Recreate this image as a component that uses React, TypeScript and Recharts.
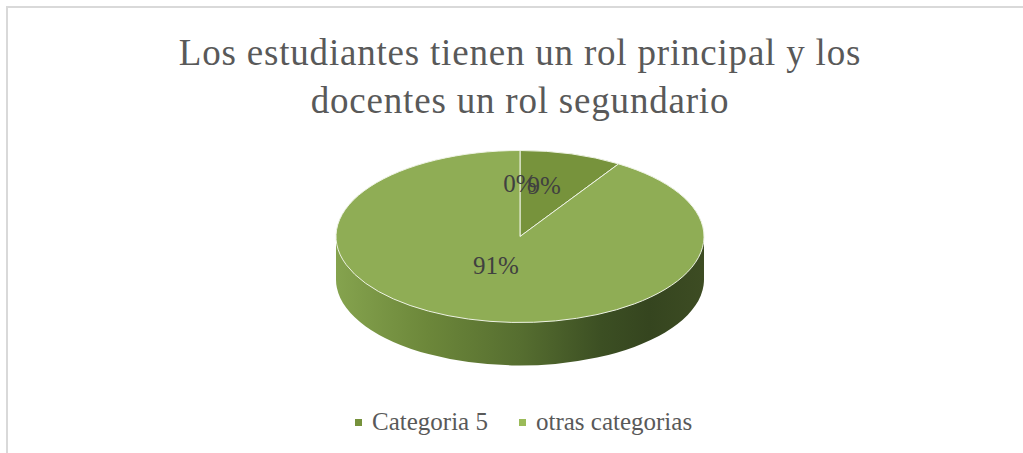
import React from 'react';
import { PieChart, Pie, Cell, Legend } from 'recharts';

// slice names, values and colours
const categories = ['Categoria 5', 'otras categorias', ''];
const values = [9, 91, 0];
const topColors = ['#77933c', '#8fad55', '#8fad55'];
const legendColors = ['#76923c', '#9bbb59'];

const titleLines = ['Los estudiantes tienen un rol principal y los', 'docentes un rol segundario'];

const pieData = categories.map((name, i) => ({ name, value: values[i] }));

// geometry of the tilted pie
const CX = 520;
const CY = 236.5;
const R = 184;
const RY = 86;
const DEPTH = 43;
const SQUASH = RY / R;
const LABEL_LIFT = 11;

const RAD = Math.PI / 180;

const renderLabel = (props: any) => {
  const { cx, cy, midAngle, outerRadius, percent } = props;
  const x = cx + outerRadius * 0.47 * Math.cos(-midAngle * RAD);
  const y = cy - LABEL_LIFT + outerRadius * SQUASH * 0.49 * Math.sin(-midAngle * RAD);
  return (
    <text
      x={x}
      y={y}
      fill="#404040"
      fontSize={25}
      fontFamily="'Liberation Serif', serif"
      textAnchor="middle"
      dominantBaseline="central"
    >
      {`${Math.round(percent * 100)}%`}
    </text>
  );
};

const renderLegend = () => (
  <div style={{ display: 'flex', alignItems: 'center', paddingLeft: 355, height: 30 }}>
    {categories
      .filter((c) => c !== '')
      .map((c, i) => (
        <div key={c} style={{ display: 'flex', alignItems: 'center', marginRight: 31 }}>
          <span style={{ width: 7, height: 7, background: legendColors[i], marginRight: 10 }} />
          <span style={{ fontSize: 25, color: '#595959', lineHeight: '30px' }}>{c}</span>
        </div>
      ))}
  </div>
);

const css = `
.top3d path.recharts-sector { transform: scaleY(${SQUASH}); transform-origin: ${CX}px ${CY}px; vector-effect: non-scaling-stroke; }
.side3d path.recharts-sector { transform: scaleY(${SQUASH}); transform-origin: ${CX}px ${CY + DEPTH}px; }
`;

const App: React.FC = () => {
  return (
    <div
      style={{
        position: 'absolute',
        left: 0,
        top: 0,
        width: 1023,
        height: 453,
        overflow: 'hidden',
        background: '#fff',
        fontFamily: "'Liberation Serif', serif",
      }}
    >
      <style>{css}</style>
      <div
        style={{
          position: 'absolute',
          left: 6,
          top: 6,
          width: 1100,
          height: 500,
          borderTop: '2px solid #d9d9d9',
          borderLeft: '2px solid #d9d9d9',
        }}
      />
      <div
        style={{
          position: 'absolute',
          left: 0,
          top: 28.5,
          width: 1040,
          textAlign: 'center',
          fontSize: 37,
          lineHeight: '48px',
          letterSpacing: 0.8,
          color: '#595959',
        }}
      >
        {titleLines.map((l) => (
          <div key={l}>{l}</div>
        ))}
      </div>
      <div style={{ position: 'absolute', left: 0, top: 0 }}>
        <PieChart width={1023} height={453} margin={{ top: 0, right: 0, bottom: 0, left: 0 }}>
          <defs>
            <linearGradient id="sideGrad" gradientUnits="userSpaceOnUse" x1={CX - R} y1={0} x2={CX + R} y2={0}>
              <stop offset="0" stopColor="#85a34e" />
              <stop offset="0.25" stopColor="#6c873a" />
              <stop offset="0.5" stopColor="#566e30" />
              <stop offset="0.72" stopColor="#3c4f23" />
              <stop offset="0.85" stopColor="#35451f" />
              <stop offset="1" stopColor="#3d4c23" />
            </linearGradient>
          </defs>
          <rect x={CX - R} y={CY} width={2 * R} height={DEPTH} fill="url(#sideGrad)" />
          <Pie
            className="side3d"
            data={pieData}
            dataKey="value"
            nameKey="name"
            cx={CX}
            cy={CY + DEPTH}
            outerRadius={R}
            startAngle={90}
            endAngle={-270}
            stroke="none"
            label={false}
            labelLine={false}
            legendType="none"
            isAnimationActive={false}
          >
            {pieData.map((d, i) => (
              <Cell key={`side-${i}`} fill="url(#sideGrad)" />
            ))}
          </Pie>
          <Pie
            className="top3d"
            data={pieData}
            dataKey="value"
            nameKey="name"
            cx={CX}
            cy={CY}
            outerRadius={R}
            startAngle={90}
            endAngle={-270}
            stroke="#eef3e4"
            strokeWidth={1}
            label={renderLabel}
            labelLine={false}
            isAnimationActive={false}
          >
            {pieData.map((d, i) => (
              <Cell key={`top-${i}`} fill={topColors[i]} />
            ))}
          </Pie>
          <Legend content={renderLegend} wrapperStyle={{ position: 'absolute', top: 407, left: 0, width: 1023 }} />
        </PieChart>
      </div>
    </div>
  );
};

export default App;
